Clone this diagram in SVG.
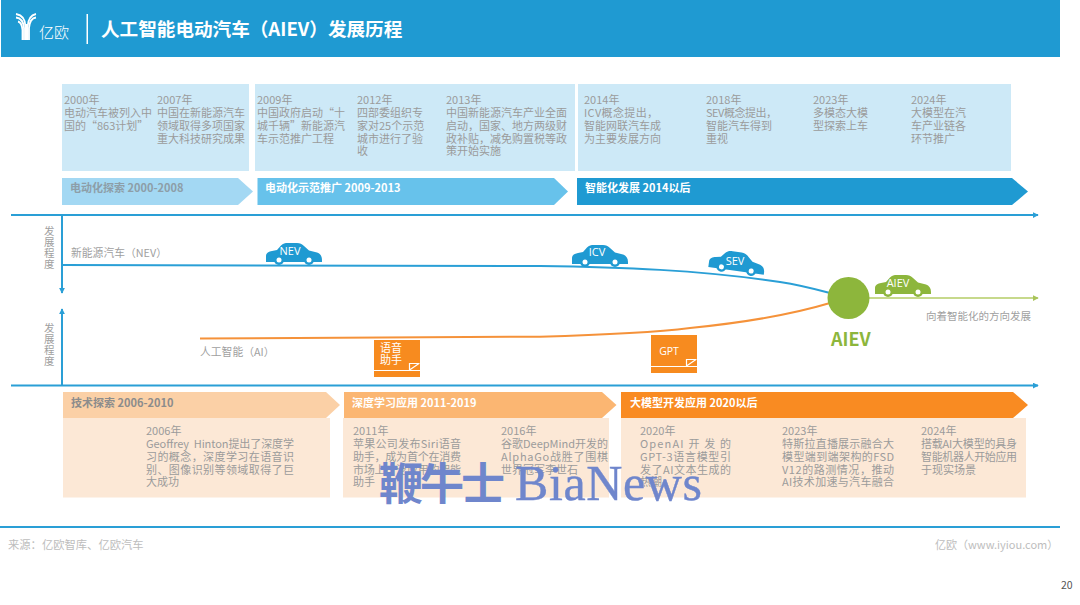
<svg xmlns="http://www.w3.org/2000/svg" width="1080" height="605" viewBox="0 0 1080 605">
<style>
text{font-family:"Noto Sans CJK SC","Liberation Sans",sans-serif}
.t{font-size:11px;fill:#9b9b9b}
.p{font-size:10.800px;fill:#9f9f9f}
.h{font-size:11px;font-weight:700}
.w{fill:#fff;font-size:11px}
.c{fill:#fff;font-size:11px;text-anchor:middle;font-family:"Open Sans","Liberation Sans",sans-serif}
.ax{stroke:#2A9FD6;stroke-width:2;fill:none}
</style>
<defs>
<marker id="ab" viewBox="0 0 8 8" refX="7" refY="4" markerWidth="6" markerHeight="6" markerUnits="userSpaceOnUse" orient="auto"><path d="M0 0L8 4L0 8Z" fill="#2A9FD6"/></marker>
<marker id="ag" viewBox="0 0 8 8" refX="7" refY="4" markerWidth="6" markerHeight="6" markerUnits="userSpaceOnUse" orient="auto"><path d="M0 0L8 4L0 8Z" fill="#A9C45A"/></marker>
<g id="car"><path d="M0 13C0 10 3 8.500 6 8L11 7L15 2.500C17 .5 19 0 22 0L31 0C34 0 36 1 38 3L43 7.500L51 9.500C54 10.500 56 13 56 17L56 19L0 19Z"/></g>
</defs>
<rect width="1080" height="605" fill="#fff"/>
<g id="header">
<rect x="1" y="0" width="1059" height="57" fill="#1F9AD2"/>
<g fill="none" stroke="#fff" stroke-width="1.800"><path d="M16 14C22 15 25.500 19 25.500 27V40"/><path d="M16 17.500C21 18 23.500 22 24 28V40"/><path d="M18 21.500C20.500 22 22 25 22.500 30V40"/><path d="M36 14C31 15 28 19 27.500 27V40"/><path d="M36 17.500C32 18 29.500 22 29 28V40"/><path d="M26.500 24V40"/></g>
<text x="39" y="38" font-size="15" fill="#fff" style="font-weight:300">亿欧</text>
<rect x="86.500" y="14" width="1.500" height="30" fill="#fff"/>
<text x="101" y="36" font-size="18.600" font-weight="700" fill="#fff">人工智能电动汽车（AIEV）发展历程</text>
</g>
<g id="phase-top">
<g fill="#CDE9F7"><rect x="62" y="84" width="187" height="87"/><rect x="255" y="84" width="320" height="87"/><rect x="578" y="84" width="433" height="87"/></g>
<path d="M62 178H238L253 191.500L238 205H62Z" fill="#A3D8F3"/>
<path d="M257.500 178H554L568 191.500L554 205H257.500Z" fill="#67C2EB"/>
<path d="M577 178H1012L1028 191.500L1012 205H577Z" fill="#1F9AD2"/>
<text class="h" x="70" y="192" fill="#8d9ea8">电动化探索 2000-2008</text>
<text class="h" x="265" y="192" fill="#fff">电动化示范推广 2009-2013</text>
<text class="h" x="585" y="192" fill="#fff">智能化发展 2014以后</text>
</g>
<g id="events-top">
<text class="t"><tspan x="64" y="104">2000年</tspan><tspan x="64" y="117">电动汽车被列入中</tspan><tspan x="64" y="130">国的“863计划”</tspan></text>
<text class="t"><tspan x="157" y="104">2007年</tspan><tspan x="157" y="117">中国在新能源汽车</tspan><tspan x="157" y="130">领域取得多项国家</tspan><tspan x="157" y="143">重大科技研究成果</tspan></text>
<text class="t"><tspan x="257" y="104">2009年</tspan><tspan x="257" y="117">中国政府启动“十</tspan><tspan x="257" y="130">城千辆”新能源汽</tspan><tspan x="257" y="143">车示范推广工程</tspan></text>
<text class="t"><tspan x="357" y="104">2012年</tspan><tspan x="357" y="117">四部委组织专</tspan><tspan x="357" y="130">家对25个示范</tspan><tspan x="357" y="143">城市进行了验</tspan><tspan x="357" y="155">收</tspan></text>
<text class="t"><tspan x="446" y="104">2013年</tspan><tspan x="446" y="117">中国新能源汽车产业全面</tspan><tspan x="446" y="130">启动，国家、地方两级财</tspan><tspan x="446" y="143">政补贴，减免购置税等政</tspan><tspan x="446" y="155">策开始实施</tspan></text>
<text class="t" x="584" y="104">2014年</text><text class="t" x="584" y="117" textLength="74">ICV概念提出，</text><text class="t" x="584" y="130">智能网联汽车成</text><text class="t" x="584" y="143">为主要发展方向</text>
<text class="t" x="706" y="104">2018年</text><text class="t" x="706" y="117" textLength="71">SEV概念提出，</text><text class="t" x="706" y="130">智能汽车得到</text><text class="t" x="706" y="143">重视</text>
<text class="t"><tspan x="813" y="104">2023年</tspan><tspan x="813" y="117">多模态大模</tspan><tspan x="813" y="130">型探索上车</tspan></text>
<text class="t"><tspan x="911" y="104">2024年</tspan><tspan x="911" y="117">大模型在汽</tspan><tspan x="911" y="130">车产业链各</tspan><tspan x="911" y="143">环节推广</tspan></text>
</g>
<g id="connectors">
<path class="ax" d="M11 215H1038" marker-end="url(#ab)"/>
<path class="ax" d="M11 385.500H1038" marker-end="url(#ab)"/>
<path class="ax" d="M62 215V293" marker-end="url(#ab)"/>
<path class="ax" d="M62 385V309" marker-end="url(#ab)"/>
<path d="M62 265C300 265 450 265 540 266C620 267 700 270 780 282C800 285 815 289 830 293" fill="none" stroke="#2A9FD6" stroke-width="2"/>
<path d="M200 338.500C350 338 480 338 540 336.700C600 335 650 333 690 328C750 322 790 315 830 303" fill="none" stroke="#F5923A" stroke-width="2"/>
<path d="M868 298H1038" fill="none" stroke="#B4CC66" stroke-width="1.500" marker-end="url(#ag)"/>
</g>
<g id="labels">
<text class="p" style="font-size:10.500px"><tspan x="44" y="235">发</tspan><tspan x="44" y="246">展</tspan><tspan x="44" y="257">程</tspan><tspan x="44" y="268">度</tspan></text>
<text class="p" style="font-size:10.500px"><tspan x="44" y="332">发</tspan><tspan x="44" y="343">展</tspan><tspan x="44" y="354">程</tspan><tspan x="44" y="365">度</tspan></text>
<text class="p" x="71" y="257">新能源汽车（NEV）</text>
<text class="p" x="200" y="356">人工智能（AI）</text>
<text class="p" x="926" y="320" style="font-size:10.500px">向着智能化的方向发展</text>
</g>
<g id="car-nev" fill="#1F9AD2"><use href="#car" transform="translate(266 243)"/><circle cx="279" cy="260" r="5"/><circle cx="309" cy="260" r="5"/><circle cx="279" cy="260" r="2.500" fill="#fff"/><circle cx="309" cy="260" r="2.500" fill="#fff"/><text class="c" x="290" y="255">NEV</text></g>
<g id="car-icv" fill="#1F9AD2"><use href="#car" transform="translate(572 245)"/><circle cx="585" cy="262" r="5"/><circle cx="615" cy="262" r="5"/><circle cx="585" cy="262" r="2.500" fill="#fff"/><circle cx="615" cy="262" r="2.500" fill="#fff"/><text class="c" x="597" y="256">ICV</text></g>
<g id="car-sev" fill="#1F9AD2"><g transform="rotate(8 737 264)"><use href="#car" transform="translate(709 252)"/><circle cx="722" cy="269" r="5"/><circle cx="752" cy="269" r="5"/><circle cx="722" cy="269" r="2.500" fill="#fff"/><circle cx="752" cy="269" r="2.500" fill="#fff"/></g><text class="c" x="735" y="265">SEV</text></g>
<g id="car-aiev" fill="#8DB63C"><use href="#car" transform="translate(875 275)"/><circle cx="888" cy="292" r="5"/><circle cx="918" cy="292" r="5"/><circle cx="888" cy="292" r="2.500" fill="#fff"/><circle cx="918" cy="292" r="2.500" fill="#fff"/><text class="c" x="898" y="287">AIEV</text></g>
<g id="node-aiev"><circle cx="848.500" cy="298" r="21" fill="#8DB63C"/><text x="831" y="346" font-size="18" font-weight="700" fill="#8DB63C">AIEV</text></g>
<g id="node-voice">
<rect x="374" y="340" width="46" height="37" fill="#F78B1F"/><path d="M374 370.500H420" stroke="#fff"/><path d="M409.500 370V363.500H419.500M409.500 370L419 363.500" fill="none" stroke="#fff" stroke-width="1.200"/>
<text class="w"><tspan x="380" y="352">语音</tspan><tspan x="380" y="364">助手</tspan></text></g>
<g id="node-gpt">
<rect x="651" y="335" width="46" height="38" fill="#F78B1F"/><path d="M651 366.500H697" stroke="#fff"/><path d="M686.500 366V359.500H696.500M686.500 366L696 359.500" fill="none" stroke="#fff" stroke-width="1.200"/>
<text class="c" x="669" y="355" style="font-size:10.500px">GPT</text></g>
<g id="phase-bottom">
<g fill="#FCE8D6"><rect x="63" y="418" width="267" height="79.500"/><rect x="343" y="418" width="266" height="79.500"/><rect x="621" y="418" width="405" height="79.500"/></g>
<path d="M63 392H326L340 405L326 418H63Z" fill="#FBD0A6"/>
<path d="M344 392H602L616.500 405L602 418H344Z" fill="#FBB672"/>
<path d="M621 392H1013L1028 405L1013 418H621Z" fill="#F98B22"/>
<text class="h" x="71" y="407" fill="#8c8c8c">技术探索 2006-2010</text>
<text class="h" x="352" y="407" fill="#fff">深度学习应用 2011-2019</text>
<text class="h" x="630" y="407" fill="#fff">大模型开发应用 2020以后</text>
</g>
<g id="events-bottom">
<text class="t" x="146" y="435">2006年</text><text class="t" x="146" y="448" textLength="148">Geoffrey&#160; Hinton提出了深度学</text><text class="t" x="146" y="461" textLength="148">习的概念，深度学习在语音识</text><text class="t" x="146" y="474" textLength="148">别、图像识别等领域取得了巨</text><text class="t" x="146" y="486">大成功</text>
<text class="t" x="353" y="435">2011年</text><text class="t" x="353" y="448" textLength="108">苹果公司发布Siri语音</text><text class="t" x="353" y="461" textLength="108">助手，成为首个在消费</text><text class="t" x="353" y="474" textLength="108">市场上广泛应用的智能</text><text class="t" x="353" y="486">助手</text>
<text class="t" x="501" y="435">2016年</text><text class="t" x="501" y="448" textLength="107">谷歌DeepMind开发的</text><text class="t" x="501" y="461" textLength="107">AlphaGo战胜了围棋</text><text class="t" x="501" y="474">世界冠军李世石</text>
<text class="t" x="640" y="435">2020年</text><text class="t" x="640" y="448" textLength="91">OpenAI 开 发 的</text><text class="t" x="640" y="461" textLength="91">GPT-3语言模型引</text><text class="t" x="640" y="474" textLength="91">发了AI文本生成的</text><text class="t" x="640" y="486">热潮</text>
<text class="t" x="782" y="435">2023年</text><text class="t" x="782" y="448" textLength="112">特斯拉直播展示融合大</text><text class="t" x="782" y="461" textLength="112">模型端到端架构的FSD</text><text class="t" x="782" y="474" textLength="112">V12的路测情况，推动</text><text class="t" x="782" y="486" textLength="112">AI技术加速与汽车融合</text>
<text class="t" x="921" y="435">2024年</text><text class="t" x="921" y="448" textLength="96">搭载AI大模型的具身</text><text class="t" x="921" y="461" textLength="96">智能机器人开始应用</text><text class="t" x="921" y="474">于现实场景</text>
</g>
<g id="footer">
<rect x="0" y="526" width="1060" height="2" fill="#2A9FD6"/>
<text x="8" y="549" font-size="11.300" fill="#bdbdbd">来源：亿欧智库、亿欧汽车</text>
<text x="935" y="549" font-size="11" fill="#bdbdbd">亿欧（www.iyiou.com）</text>
<text x="1061" y="589" font-size="10.500" fill="#555">20</text>
</g>
<g id="watermark" fill="#6F86CC">
<text x="379" y="500" font-size="44" font-weight="700" textLength="126" style="font-family:'Noto Sans CJK SC',serif">鞭牛士</text>
<text x="515" y="500" font-size="50" textLength="187" stroke="#6F86CC" stroke-width=".4" style="font-family:'Liberation Serif',serif">BiaNews</text>
</g>
</svg>
